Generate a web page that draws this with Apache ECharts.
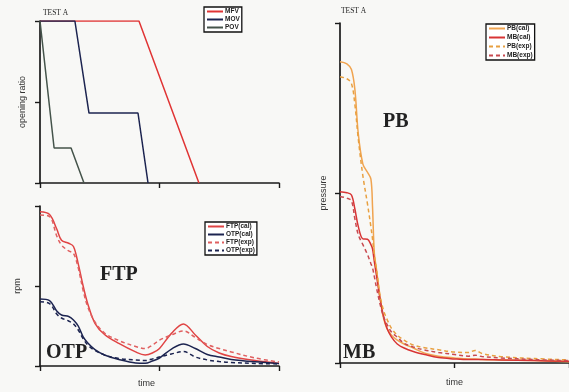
<!DOCTYPE html>
<html><head><meta charset="utf-8">
<script src="https://cdn.jsdelivr.net/npm/echarts@6/dist/echarts.min.js"></script>
<style>html,body{margin:0;padding:0;background:#f8f8f6}#c{width:569px;height:392px}</style>
</head><body><div id="c"></div>
<script>
// ---- Panel 1: valve opening ratio (time, ratio) ----
const mfvT = [0, 4.14, 6.65];
const mfvV = [1, 1, 0];
const movT = [0, 1.46, 2.05, 4.10, 4.52];
const movV = [1, 1, 0.432, 0.432, 0];
const povT = [0, 0.59, 1.30, 1.84];
const povV = [1, 0.216, 0.216, 0];

// ---- Panel 2: rpm ----
const tRpm   = [0,0.4,0.7,0.9,1.2,1.4,1.6,1.8,2.0,2.3,2.7,3.3,4.0,4.4,4.7,5.0,5.5,6.0,6.5,7.0,7.5,8.0,9.0,10.0];
const ftpCal = [0.964,0.947,0.856,0.786,0.767,0.747,0.638,0.503,0.388,0.267,0.197,0.141,0.088,0.069,0.081,0.11,0.204,0.263,0.194,0.122,0.081,0.059,0.034,0.016];
const otpCal = [0.419,0.409,0.344,0.319,0.309,0.288,0.25,0.184,0.144,0.103,0.069,0.041,0.019,0.017,0.031,0.05,0.106,0.138,0.109,0.072,0.056,0.041,0.026,0.016];
const ftpExp = [0.944,0.934,0.813,0.756,0.719,0.704,0.613,0.475,0.369,0.275,0.206,0.159,0.122,0.109,0.13,0.162,0.194,0.219,0.178,0.134,0.109,0.088,0.05,0.025];
const otpExp = [0.402,0.39,0.325,0.3,0.281,0.263,0.225,0.172,0.131,0.097,0.069,0.047,0.038,0.034,0.044,0.056,0.075,0.09,0.056,0.038,0.028,0.022,0.016,0.013];

// ---- Panel 3: pressure ----
const tPress = [0,0.3,0.5,0.65,0.8,1.0,1.2,1.35,1.42,1.5,1.6,1.75,1.9,2.05,2.25,2.5,2.8,3.2,3.7,4.3,5.0,5.6,5.9,6.2,7.0,8.5,10];
const pbCal = [0.886,0.880,0.863,0.804,0.673,0.585,0.561,0.541,0.46,0.322,0.272,0.19,0.132,0.102,0.082,0.067,0.056,0.044,0.029,0.020,0.015,0.012,0.012,0.010,0.009,0.007,0.004];
const mbCal = [0.504,0.501,0.494,0.453,0.401,0.365,0.364,0.348,0.336,0.298,0.254,0.19,0.137,0.102,0.076,0.056,0.044,0.034,0.025,0.016,0.012,0.010,0.010,0.010,0.009,0.007,0.005];
const pbExp = [0.842,0.836,0.822,0.760,0.658,0.55,0.468,0.40,0.365,0.316,0.272,0.199,0.155,0.129,0.102,0.082,0.067,0.053,0.045,0.039,0.032,0.031,0.037,0.028,0.019,0.013,0.009];
const mbExp = [0.490,0.485,0.477,0.424,0.377,0.348,0.319,0.292,0.28,0.254,0.219,0.173,0.137,0.114,0.091,0.076,0.058,0.047,0.038,0.031,0.025,0.020,0.023,0.019,0.015,0.010,0.007];

const zip = (t, v) => t.map((x, i) => [x, v[i]]);

const axisCommon = {
  type: 'value', min: 0, max: 10, interval: 5,
  axisLine: { show: true, onZero: false, lineStyle: { color: '#1a1a1a', width: 1.7 } },
  axisTick: { show: true, length: 5, lineStyle: { color: '#1a1a1a', width: 1.4 } },
  axisLabel: { show: false }, splitLine: { show: false }
};
const yCommon = {
  type: 'value', min: 0, max: 1, interval: 0.5,
  axisLine: { show: true, onZero: false, lineStyle: { color: '#1a1a1a', width: 1.7 } },
  axisTick: { show: true, length: 5, lineStyle: { color: '#1a1a1a', width: 1.4 } },
  axisLabel: { show: false }, splitLine: { show: false },
  nameLocation: 'middle',
  nameTextStyle: { fontSize: 9, color: '#333', fontFamily: 'Liberation Sans' }
};
const legendCommon = {
  orient: 'vertical', itemWidth: 16, itemHeight: 5, itemGap: 1,
  padding: [1, 2, 1, 2], borderColor: '#111', borderWidth: 1.3, backgroundColor: '#fff',
  itemStyle: { opacity: 0 },
  textStyle: { fontSize: 6.5, fontWeight: 'bold', color: '#222', fontFamily: 'Liberation Sans', padding: [0, 0, 0, -3] }
};
const line = (name, data, xi, color, dashed, smooth) => ({
  name, type: 'line', xAxisIndex: xi, yAxisIndex: xi, data, symbol: 'none', showSymbol: false,
  smooth: smooth ? 0.35 : false, animation: false,
  lineStyle: { color, width: 1.5, type: dashed ? [4, 3] : 'solid' }, itemStyle: { color }
});

const chart = echarts.init(document.getElementById('c'), null, { renderer: 'canvas' });
chart.setOption({
  backgroundColor: '#f8f8f6',
  animation: false,
  grid: [
    { left: 40, top: 21, width: 239, height: 162 },
    { left: 40, top: 206, width: 239, height: 160 },
    { left: 340, top: 23, width: 229, height: 342 }
  ],
  xAxis: [
    Object.assign({}, axisCommon, { gridIndex: 0 }),
    Object.assign({}, axisCommon, { gridIndex: 1, name: 'time', nameLocation: 'middle', nameGap: 13,
      nameTextStyle: { fontSize: 9, color: '#333', fontFamily: 'Liberation Sans', padding: [0, 26, 0, 0] } }),
    Object.assign({}, axisCommon, { gridIndex: 2, name: 'time', nameLocation: 'middle', nameGap: 15,
      nameTextStyle: { fontSize: 9, color: '#333', fontFamily: 'Liberation Sans' } })
  ],
  yAxis: [
    Object.assign({}, yCommon, { gridIndex: 0, name: 'opening ratio', nameGap: 13 }),
    Object.assign({}, yCommon, { gridIndex: 1, name: 'rpm', nameGap: 18 }),
    Object.assign({}, yCommon, { gridIndex: 2, name: 'pressure', nameGap: 12 })
  ],
  legend: [
    Object.assign({}, legendCommon, { left: 204, top: 7, data: ['MFV', 'MOV', 'POV'] }),
    Object.assign({}, legendCommon, { left: 205, top: 222, data: ['FTP(cal)', 'OTP(cal)', 'FTP(exp)', 'OTP(exp)'] }),
    Object.assign({}, legendCommon, { left: 486, top: 24, itemGap: 2, data: ['PB(cal)', 'MB(cal)', 'PB(exp)', 'MB(exp)'] })
  ],
  graphic: [
    { type: 'text', left: 43, top: 9, style: { text: 'TEST A', font: '7.5px "Liberation Serif"', fill: '#222' } },
    { type: 'text', left: 341, top: 7, style: { text: 'TEST A', font: '7.5px "Liberation Serif"', fill: '#222' } },
    { type: 'text', left: 100, top: 265, style: { text: 'FTP', font: 'bold 20px "Liberation Serif"', fill: '#222' } },
    { type: 'text', left: 46, top: 343, style: { text: 'OTP', font: 'bold 20px "Liberation Serif"', fill: '#222' } },
    { type: 'text', left: 383, top: 112, style: { text: 'PB', font: 'bold 20px "Liberation Serif"', fill: '#222' } },
    { type: 'text', left: 343, top: 343, style: { text: 'MB', font: 'bold 20px "Liberation Serif"', fill: '#222' } }
  ],
  series: [
    line('MFV', zip(mfvT, mfvV), 0, '#e03434', false, false),
    line('MOV', zip(movT, movV), 0, '#1c2450', false, false),
    line('POV', zip(povT, povV), 0, '#44534a', false, false),
    line('FTP(cal)', zip(tRpm, ftpCal), 1, '#e04444', false, true),
    line('OTP(cal)', zip(tRpm, otpCal), 1, '#1c2450', false, true),
    line('FTP(exp)', zip(tRpm, ftpExp), 1, '#e06060', true, true),
    line('OTP(exp)', zip(tRpm, otpExp), 1, '#1c2450', true, true),
    line('PB(cal)', zip(tPress, pbCal), 2, '#f0a450', false, true),
    line('MB(cal)', zip(tPress, mbCal), 2, '#d83434', false, true),
    line('PB(exp)', zip(tPress, pbExp), 2, '#e8a040', true, true),
    line('MB(exp)', zip(tPress, mbExp), 2, '#c84a50', true, true)
  ]
});
</script></body></html>
